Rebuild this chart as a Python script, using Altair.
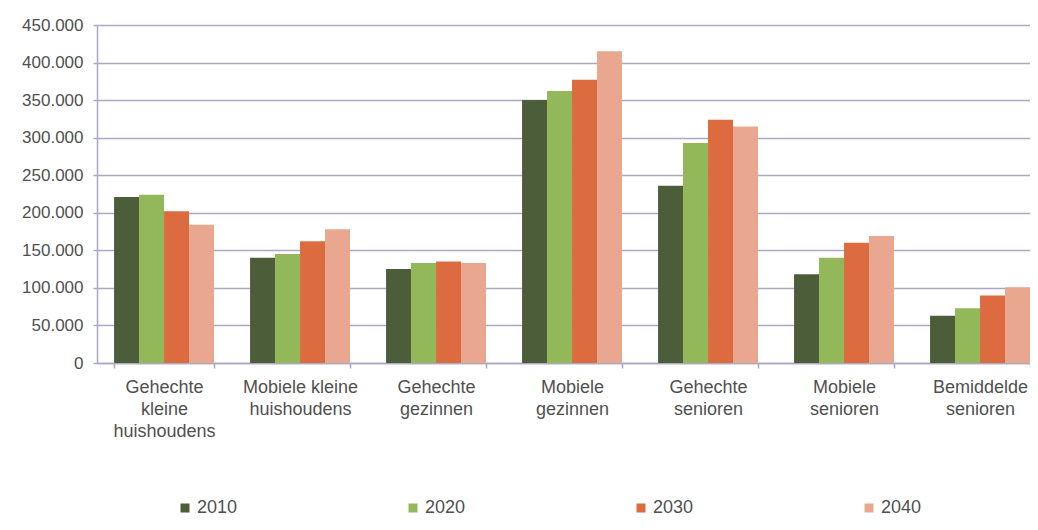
import altair as alt
import pandas as pd

categories = [
    "Gehechte|kleine|huishoudens",
    "Mobiele kleine|huishoudens",
    "Gehechte|gezinnen",
    "Mobiele|gezinnen",
    "Gehechte|senioren",
    "Mobiele|senioren",
    "Bemiddelde|senioren",
]
years = ["2010", "2020", "2030", "2040"]
v2010 = [221000, 140000, 125000, 350000, 236000, 118000, 63000]
v2020 = [224000, 145000, 133000, 362000, 293000, 140000, 73000]
v2030 = [202000, 162000, 135000, 377000, 324000, 160000, 90000]
v2040 = [184000, 178000, 133000, 415000, 315000, 169000, 101000]
colors = ["#4b5e39", "#93b85a", "#dc6c3f", "#eaa78f"]
y_ticks = list(range(0, 450001, 50000))

series = {"2010": v2010, "2020": v2020, "2030": v2030, "2040": v2040}
rows = []
for y in years:
    for c, v in zip(categories, series[y]):
        rows.append({"categorie": c, "jaar": y, "waarde": v})
df = pd.DataFrame(rows)

grid_col = "#aaa8c2"
text_col = "#505050"
font = "Liberation Sans"

chart = alt.Chart(df).mark_bar().encode(
    x=alt.X(
        "categorie:N",
        sort=categories,
        title=None,
        scale=alt.Scale(paddingInner=0.265, paddingOuter=0.0627, align=1),
        axis=alt.Axis(
            labelAngle=0,
            labelExpr="split(datum.label, '|')",
            tickBand="extent",
            ticks=True,
            tickSize=5,
            tickColor=grid_col,
            tickWidth=1.5,
            domainColor=grid_col,
            domainWidth=1.5,
            labelFont=font,
            labelFontSize=18,
            labelColor=text_col,
            labelPadding=10,
            labelLineHeight=22,
            labelLimit=0,
            grid=False,
        ),
    ),
    xOffset=alt.XOffset("jaar:N", sort=years, scale=alt.Scale(paddingInner=0, paddingOuter=0)),
    y=alt.Y(
        "waarde:Q",
        title=None,
        scale=alt.Scale(domain=[0, 450000], nice=False),
        axis=alt.Axis(
            values=y_ticks,
            labelExpr="replace(format(datum.value, ','), ',', '.')",
            labelFont=font,
            labelFontSize=17,
            labelColor=text_col,
            labelPadding=10,
            tickSize=4,
            tickColor=grid_col,
            tickWidth=1.5,
            domainColor=grid_col,
            domainWidth=1.5,
            gridColor=grid_col,
            gridWidth=1.5,
        ),
    ),
    color=alt.Color(
        "jaar:N",
        scale=alt.Scale(domain=years, range=colors),
        legend=alt.Legend(
            orient="none",
            legendX=79,
            legendY=474,
            direction="horizontal",
            columns=4,
            columnPadding=166,
            title=None,
            symbolType="square",
            symbolSize=81,
            symbolStrokeWidth=0,
            labelFont=font,
            labelFontSize=18,
            labelColor=text_col,
            labelOffset=3,
        ),
    ),
).properties(
    width=933,
    height=338,
    autosize=alt.AutoSizeParams(type="none"),
    padding={"left": 89, "top": 17, "right": 0, "bottom": 159},
).configure_view(stroke=None)

chart.save("out.html", embed_options={"renderer": "svg", "actions": False})
